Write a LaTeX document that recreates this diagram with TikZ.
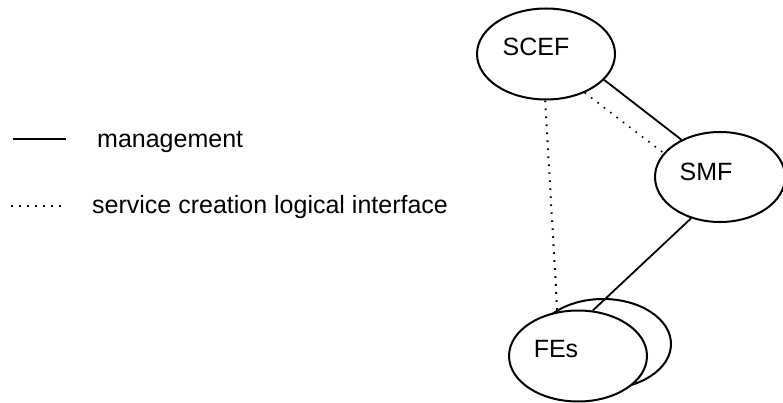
\documentclass[tikz,border=0pt]{standalone}
\usepackage{fontspec}
\setmainfont{Liberation Sans}
\usepackage{tikz}
\usetikzlibrary{shapes.geometric}
\tikzset{
    entity/.style={
        ellipse,
        draw=black,
        fill=white,
        line width=2pt,
        inner sep=0pt,
        minimum width=138pt,
        minimum height=91pt
    },
    entitytext/.style={
        inner sep=0pt,
        font=\fontsize{25}{30}\selectfont
    },
    legendtext/.style={
        inner sep=0pt,
        anchor=base west,
        font=\fontsize{25}{30}\selectfont
    },
    mgmt/.style={
        line width=1.8pt,
        draw=black
    },
    sclif/.style={
        line width=1.6pt,
        draw=black,
        dash pattern=on 1.6pt off 6.4pt
    }
}

\begin{document}
\begin{tikzpicture}[x=1pt, y=-1pt]
    \useasboundingbox (0,0) rectangle (783,403);

    % legend
    \coordinate (mgmt-a) at (13,139);
    \coordinate (mgmt-b) at (66,139);
    \coordinate (sclif-a) at (11,206);
    \coordinate (sclif-b) at (62,206);
    \draw[mgmt] (mgmt-a) -- (mgmt-b);
    \draw[sclif] (sclif-a) -- (sclif-b);
    \node[legendtext] (mgmt-lbl) at (97,148) {management};
    \node[legendtext] (sclif-lbl) at (92,213) {service creation logical interface};

    % functional entities
    \node[entity] (scef) at (546,54) {};
    \node[entity, minimum width=130pt, minimum height=90pt] (smf) at (720,177) {};
    \node[entity, minimum width=136pt, minimum height=90pt] (fes-back) at (603,344) {};
    \node[entity] (fes) at (578,356) {};

    \node[entitytext] (scef-lbl) at (536,47) {SCEF};
    \node[entitytext] (smf-lbl) at (706,172) {SMF};
    \node[entitytext] (fes-lbl) at (556,349) {FEs};

    \draw[mgmt] (scef.-24.5) -- (smf.136.5);
    \draw[mgmt] (smf.235) -- (fes.72);
    \draw[sclif] (scef.-45) -- (smf.157);
    \draw[sclif, line width=2pt] (scef.-91) -- (fes.115);
\end{tikzpicture}
\end{document}
